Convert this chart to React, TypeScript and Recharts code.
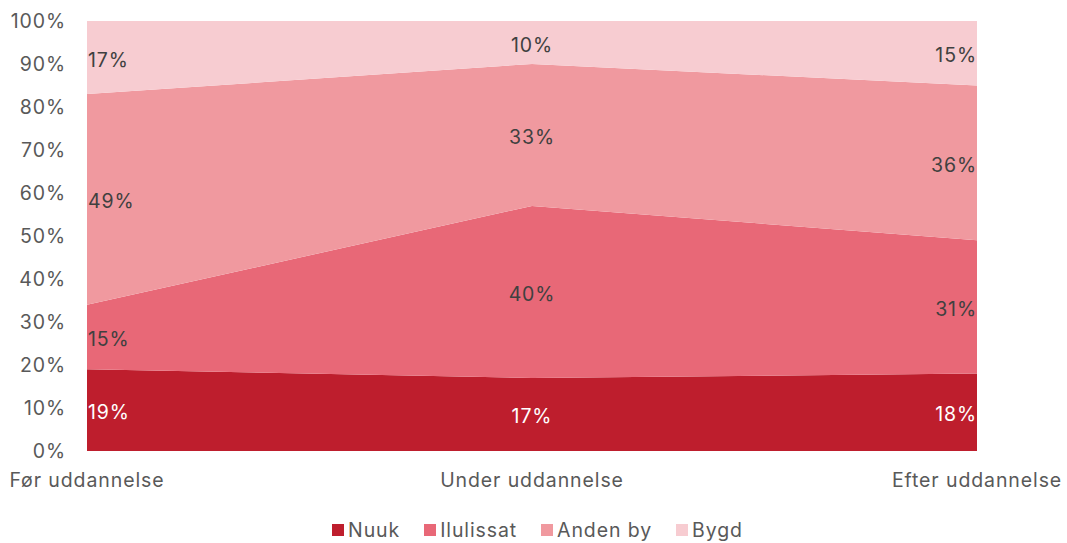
import { ComposedChart, Area, Line, XAxis, YAxis, LabelList } from 'recharts';

// Kategorier og andele (%)
const categories = ['Før uddannelse', 'Under uddannelse', 'Efter uddannelse'];
const nuuk = [19, 17, 18];
const ilulissat = [15, 40, 31];
const andenBy = [49, 33, 36];
const bygd = [17, 10, 15];
const yTicks = [0, 10, 20, 30, 40, 50, 60, 70, 80, 90, 100];

const series = [
  { key: 'nuuk', name: 'Nuuk', color: '#BE1E2D', label: '#FFFFFF' },
  { key: 'ilulissat', name: 'Ilulissat', color: '#E86877', label: '#404040' },
  { key: 'andenBy', name: 'Anden by', color: '#F0999F', label: '#404040' },
  { key: 'bygd', name: 'Bygd', color: '#F7CCD1', label: '#404040' },
];

const FONT = 'Inter, "Noto Sans", sans-serif';
const FS = 19.5;
const LS = 0.9; // bogstavafstand

// Data til Recharts, inkl. midtpunkter til datamærkater
const chartData = categories.map((cat, i) => {
  const vals = [nuuk[i], ilulissat[i], andenBy[i], bygd[i]];
  const row: any = { cat, nuuk: nuuk[i], ilulissat: ilulissat[i], andenBy: andenBy[i], bygd: bygd[i] };
  let acc = 0;
  vals.forEach((v, j) => {
    row[`${series[j].key}Mid`] = acc + v / 2;
    acc += v;
  });
  return row;
});

const makeLabel = (color: string) => (props: any) => {
  const { x, y, value, index } = props;
  const anchor = index === 0 ? 'start' : index === categories.length - 1 ? 'end' : 'middle';
  const dx = index === 0 ? 1 : 0;
  return (
    <text x={x} y={y} dx={dx} dy={9} textAnchor={anchor} fill={color} fontSize={FS} fontFamily={FONT} letterSpacing={LS}>
      {`${value}%`}
    </text>
  );
};

const CustomLegend = () => (
  <div style={{ display: 'flex', justifyContent: 'center', gap: 24, fontFamily: FONT, fontSize: FS, letterSpacing: LS, color: '#595959', paddingLeft: 8 }}>
    {series.map((s) => (
      <div key={s.key} style={{ display: 'flex', alignItems: 'center' }}>
        <span style={{ width: 12, height: 12, background: s.color, display: 'inline-block', marginRight: 4 }} />
        <span>{s.name}</span>
      </div>
    ))}
  </div>
);

function App() {
  return (
    <div style={{ position: 'absolute', left: 0, top: 0, width: 1067, height: 543, background: '#fff' }}>
      <ComposedChart width={1067} height={543} data={chartData} margin={{ top: 21, right: 90, bottom: 26, left: 0 }}>
        <XAxis
          dataKey="cat"
          axisLine={false}
          tickLine={false}
          tickSize={0}
          tickMargin={22}
          height={66}
          interval={0}
          tick={{ fontSize: FS, fill: '#595959', fontFamily: FONT, letterSpacing: LS }}
        />
        <YAxis
          domain={[0, 100]}
          ticks={yTicks}
          width={87}
          axisLine={false}
          tickLine={false}
          tickSize={0}
          tickMargin={21}
          tickFormatter={(v) => `${v}%`}
          tick={{ fontSize: FS, fill: '#595959', fontFamily: FONT, letterSpacing: LS }}
        />
        {series.map((s) => (
          <Area
            key={s.key}
            type="linear"
            dataKey={s.key}
            name={s.name}
            stackId="1"
            stroke="none"
            fill={s.color}
            fillOpacity={1}
            isAnimationActive={false}
          />
        ))}
        {series.map((s) => (
          <Line
            key={`${s.key}-lbl`}
            dataKey={`${s.key}Mid`}
            stroke="none"
            dot={false}
            activeDot={false}
            legendType="none"
            isAnimationActive={false}
          >
            <LabelList dataKey={s.key} content={makeLabel(s.label)} />
          </Line>
        ))}
      </ComposedChart>
      <div style={{ position: 'absolute', left: 0, width: 1067, top: 518 }}>
        <CustomLegend />
      </div>
    </div>
  );
}

export default App;
